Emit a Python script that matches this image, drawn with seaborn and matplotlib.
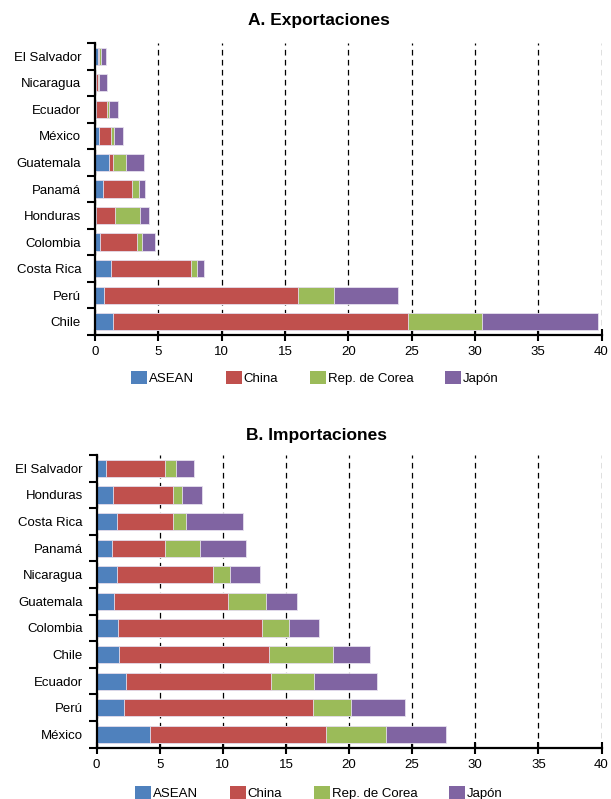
import numpy as np
import pandas as pd
import matplotlib
matplotlib.use("Agg")
import matplotlib.pyplot as plt
from matplotlib.patches import Patch
from matplotlib.ticker import FixedLocator, NullFormatter
import seaborn as sns

# ---- data ----
series = ["ASEAN", "China", "Rep. de Corea", "Japón"]
colors = ["#4F81BD", "#C0504D", "#9BBB59", "#8064A2"]

exp_countries = ["El Salvador", "Nicaragua", "Ecuador", "México", "Guatemala", "Panamá",
                 "Honduras", "Colombia", "Costa Rica", "Perú", "Chile"]
exp_asean = [0.20, 0.05, 0.10, 0.32, 1.08, 0.63, 0.05, 0.42, 1.24, 0.74, 1.39]
exp_china = [0.15, 0.15, 0.85, 0.95, 0.37, 2.32, 1.50, 2.92, 6.36, 15.30, 23.34]
exp_korea = [0.10, 0.10, 0.13, 0.25, 0.97, 0.52, 2.00, 0.34, 0.45, 2.85, 5.84]
exp_japan = [0.40, 0.65, 0.70, 0.70, 1.45, 0.50, 0.74, 1.03, 0.53, 5.07, 9.18]

imp_countries = ["El Salvador", "Honduras", "Costa Rica", "Panamá", "Nicaragua", "Guatemala",
                 "Colombia", "Chile", "Ecuador", "Perú", "México"]
imp_asean = [0.77, 1.31, 1.63, 1.20, 1.63, 1.41, 1.73, 1.81, 2.37, 2.16, 4.20]
imp_china = [4.64, 4.72, 4.40, 4.21, 7.57, 9.04, 11.34, 11.84, 11.44, 15.00, 14.00]
imp_korea = [0.86, 0.77, 1.09, 2.75, 1.39, 2.99, 2.16, 5.10, 3.40, 3.00, 4.75]
imp_japan = [1.46, 1.55, 4.51, 3.68, 2.32, 2.43, 2.40, 2.95, 5.00, 4.25, 4.75]

x_ticks = [0, 5, 10, 15, 20, 25, 30, 35, 40]

sns.set_theme(style="white")
plt.rcParams["font.family"] = ["Liberation Sans", "DejaVu Sans"]
plt.rcParams["text.color"] = "black"
plt.rcParams["xtick.color"] = "black"
plt.rcParams["ytick.color"] = "black"
plt.rcParams["xtick.labelcolor"] = "black"
plt.rcParams["ytick.labelcolor"] = "black"

fig = plt.figure(figsize=(6.11, 7.99), dpi=100)
ax1 = fig.add_axes([0.1555, 0.5807, 0.829, 0.3655])
ax2 = fig.add_axes([0.158, 0.0642, 0.8265, 0.3663])


def draw(ax, countries, vals):
    df = pd.DataFrame({"pais": countries})
    cum = np.cumsum(np.array(vals), axis=0)
    for i in range(len(series) - 1, -1, -1):
        df["v"] = cum[i]
        sns.barplot(data=df, x="v", y="pais", order=countries, orient="h",
                    color=colors[i], width=0.65, saturation=1,
                    edgecolor="#e6e0ee", linewidth=0.6, ax=ax, zorder=3)
    ax.set_xlim(0, 40)
    ax.set_ylim(len(countries) - 0.5, -0.5)
    ax.set_xlabel("")
    ax.set_ylabel("")
    ax.set_xticks(x_ticks)
    ax.set_xticklabels([str(t) for t in x_ticks], fontsize=9.5)
    ax.xaxis.grid(True, linestyle=(0, (4.5, 3.5)), color="black", linewidth=0.9, zorder=1)
    ax.yaxis.grid(False)
    ax.set_axisbelow(True)
    # y ticks: marks at boundaries, labels at centers
    ax.yaxis.set_major_locator(FixedLocator(np.arange(-0.5, len(countries), 1.0)))
    ax.yaxis.set_major_formatter(NullFormatter())
    ax.yaxis.set_minor_locator(FixedLocator(np.arange(len(countries))))
    ax.set_yticklabels(countries, minor=True, fontsize=9.5)
    ax.tick_params(axis="y", which="major", direction="out", length=6, width=1.5, color="black", left=True)
    ax.tick_params(axis="y", which="minor", length=0, pad=10, left=True)
    ax.tick_params(axis="x", direction="inout", length=8, width=1.5, color="black", bottom=True, pad=4)
    for s in ["top", "right"]:
        ax.spines[s].set_visible(False)
    for s in ["left", "bottom"]:
        ax.spines[s].set_color("black")
        ax.spines[s].set_linewidth(1.6)
        ax.spines[s].set_zorder(5)


draw(ax1, exp_countries, [exp_asean, exp_china, exp_korea, exp_japan])
draw(ax2, imp_countries, [imp_asean, imp_china, imp_korea, imp_japan])

fig.text(319 / 611, 1 - 21 / 799, "A. Exportaciones", ha="center", va="center",
         fontsize=12.5, fontweight="bold")
fig.text(317 / 611, 1 - 436 / 799, "B. Importaciones", ha="center", va="center",
         fontsize=12.5, fontweight="bold")

handles = [Patch(facecolor=c, edgecolor="none", label=s) for c, s in zip(colors, series)]
for yc, xc in [(378, 315), (793, 319)]:
    fig.legend(handles=handles, loc="center", bbox_to_anchor=(xc / 611, 1 - yc / 799),
               ncol=4, frameon=False, fontsize=9.5, handlelength=1.2, handleheight=1.2,
               handletextpad=0.15, columnspacing=2.4, borderpad=0, borderaxespad=0)

fig.savefig("out.png", dpi=100)
